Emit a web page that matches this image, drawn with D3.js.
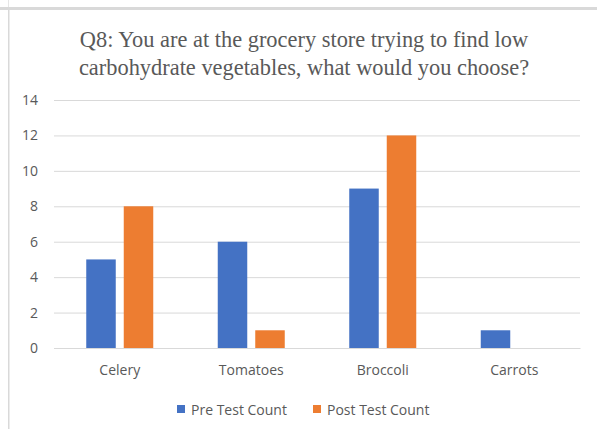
<!DOCTYPE html>
<html>
<head>
<meta charset="utf-8">
<script src="https://cdn.jsdelivr.net/npm/d3@7"></script>
<style>
  html, body { margin: 0; padding: 0; background: #fff; }
  svg { display: block; }
</style>
</head>
<body>
<svg id="chart" width="597" height="429"></svg>
<script>
// Survey answers per vegetable
const categories = ["Celery", "Tomatoes", "Broccoli", "Carrots"];
const preTest = [5, 6, 9, 1];
const postTest = [8, 1, 12, 0];
const seriesNames = ["Pre Test Count", "Post Test Count"];
const seriesColors = ["#4472C4", "#ED7D31"];
const yTicks = [0, 2, 4, 6, 8, 10, 12, 14];
const titleLines = [
  "Q8: You are at the grocery store trying to find low",
  "carbohydrate vegetables, what would you choose?"
];

const svg = d3.select("#chart");
const W = 597, H = 429;
const sans = "'Open Sans', 'Noto Sans', sans-serif";
const textColor = "#595959";

// frame: top strip and left edge
svg.append("rect").attr("x", 0).attr("y", 0).attr("width", W).attr("height", H).attr("fill", "#fff");
svg.append("rect").attr("x", 0).attr("y", 7).attr("width", W).attr("height", 3).attr("fill", "#d9d9d9");
svg.append("rect").attr("x", 8).attr("y", 10).attr("width", 1.5).attr("height", H - 10).attr("fill", "#d9d9d9");
svg.append("rect").attr("x", 8).attr("y", 0).attr("width", 1).attr("height", 7).attr("fill", "#e6e6e6");

const margin = { left: 54, right: 17, top: 100, bottom: 81 };
const x = d3.scaleBand().domain(categories).range([margin.left, W - margin.right]);
const y = d3.scaleLinear().domain([0, 14]).range([H - margin.bottom, margin.top]);

// title
svg.append("g").selectAll("text").data(titleLines).join("text")
  .attr("x", 304)
  .attr("y", (d, i) => 47 + i * 28)
  .attr("text-anchor", "middle")
  .attr("font-family", "'Liberation Serif', 'Times New Roman', serif")
  .attr("font-size", 22.4)
  .attr("fill", textColor)
  .text(d => d);

// gridlines + y labels
const yAxis = d3.axisLeft(y).tickValues(yTicks).tickSize(-(W - margin.left - margin.right)).tickPadding(16);
const gy = svg.append("g").attr("transform", `translate(${margin.left},0)`).call(yAxis);
gy.select(".domain").remove();
gy.selectAll(".tick line").attr("stroke", "#d9d9d9").attr("stroke-width", 1);
gy.selectAll(".tick text").attr("font-family", sans).attr("font-size", 14).attr("fill", textColor);

// x labels
const xAxis = d3.axisBottom(x).tickSize(0).tickPadding(17);
const gx = svg.append("g").attr("transform", `translate(0,${y(0)})`).call(xAxis);
gx.select(".domain").attr("stroke", "#d9d9d9");
gx.selectAll(".tick text").attr("font-family", sans).attr("font-size", 14).attr("fill", textColor);

// bars
const barW = 29.5, gap = 8;
const series = [preTest, postTest];
series.forEach((vals, si) => {
  svg.append("g").selectAll("rect").data(vals).join("rect")
    .attr("x", (d, i) => x(categories[i]) + x.bandwidth() / 2 + (si === 0 ? -gap / 2 - barW : gap / 2))
    .attr("y", d => y(d))
    .attr("width", barW)
    .attr("height", d => y(0) - y(d))
    .attr("fill", seriesColors[si]);
});

// legend
const legendX = [177, 313];
const lg = svg.append("g");
seriesNames.forEach((name, i) => {
  lg.append("rect").attr("x", legendX[i]).attr("y", 405).attr("width", 8).attr("height", 8).attr("fill", seriesColors[i]);
  lg.append("text").attr("x", legendX[i] + 14).attr("y", 414.5)
    .attr("font-family", sans).attr("font-size", 14).attr("fill", textColor).text(name);
});
</script>
</body>
</html>
